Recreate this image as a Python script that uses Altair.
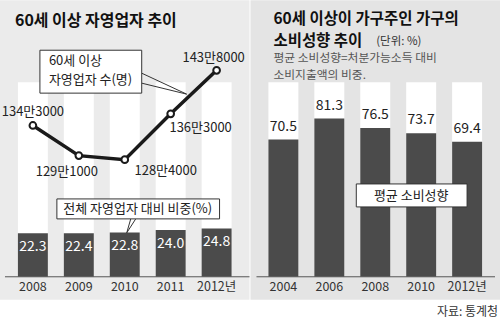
import altair as alt
import pandas as pd

FONT = "Noto Sans CJK KR"

# ---- data ----
left_years = ["2008", "2009", "2010", "2011", "2012"]
left_share = [22.3, 22.4, 22.8, 24.0, 24.8]          # 전체 자영업자 대비 비중(%)
left_count = [1343000, 1291000, 1284000, 1363000, 1438000]  # 60세 이상 자영업자 수(명)
right_years = ["2004", "2006", "2008", "2010", "2012"]
right_rate = [70.5, 81.3, 76.5, 73.7, 69.4]          # 평균 소비성향(%)

left_df = pd.DataFrame({"year": left_years, "share": left_share, "count": left_count})
right_df = pd.DataFrame({"year": right_years, "rate": right_rate})
dummy = pd.DataFrame({"d": [0]})

W, H = 250, 321
DARK = "#4b4b4b"
xs = alt.Scale(paddingInner=0.348, paddingOuter=0.39)
ybar = alt.Scale(domain=[0, 100], range=[277, 82])
yline = alt.Scale(domain=[1280000, 1440000], range=[162, 69])


def X():
    return alt.X("year:N", scale=xs, axis=None)


def bg(color):
    return alt.Chart(dummy).mark_rect(color=color).encode(
        x=alt.value(0), x2=alt.value(W), y=alt.value(0), y2=alt.value(300))


def txt(text, x, y, size=13, weight="normal", align="left", color="#222"):
    return alt.Chart(dummy).mark_text(
        text=text, font=FONT, fontSize=size, fontWeight=weight, align=align,
        baseline="middle", color=color
    ).encode(x=alt.value(x), y=alt.value(y))


def box(x1, x2, y1, y2):
    return alt.Chart(dummy).mark_rect(fill="white", stroke="#333", strokeWidth=1).encode(
        x=alt.value(x1), x2=alt.value(x2), y=alt.value(y1), y2=alt.value(y2))


def seg(x1, y1, x2, y2):
    return alt.Chart(dummy).mark_rule(color="#333", strokeWidth=1).encode(
        x=alt.value(x1), x2=alt.value(x2), y=alt.value(y1), y2=alt.value(y2))


def columns(df):
    return alt.Chart(df).transform_calculate(full="100").mark_bar(color="white").encode(
        x=X(), y=alt.Y("full:Q", scale=ybar, axis=None))


def year_labels(df):
    return alt.Chart(df).transform_calculate(
        lab="datum.year == '2012' ? '2012년' : datum.year"
    ).mark_text(font=FONT, fontSize=12.5, color="#333", baseline="middle").encode(
        x=X(), y=alt.value(287), text="lab:N")


def baseline(x1, x2):
    return alt.Chart(dummy).mark_rule(color="#555", strokeWidth=1).encode(
        x=alt.value(x1), x2=alt.value(x2), y=alt.Y(datum=0, scale=ybar, axis=None))


# ---- left panel ----
l_bars = alt.Chart(left_df).mark_bar(color=DARK).encode(
    x=X(), y=alt.Y("share:Q", scale=ybar, axis=None))
l_bar_lab = alt.Chart(left_df).mark_text(
    font=FONT, fontSize=14, color="white", baseline="middle", dy=14
).encode(x=X(), y=alt.Y("share:Q", scale=ybar, axis=None), text=alt.Text("share:Q", format=".1f"))
l_line = alt.Chart(left_df).mark_line(color="#1a1a1a", strokeWidth=3.5).encode(
    x=X(), y=alt.Y("count:Q", scale=yline, axis=None))
l_pts = alt.Chart(left_df).mark_point(
    shape="circle", filled=True, fill="white", stroke="#1a1a1a", strokeWidth=2, size=45, opacity=1
).encode(x=X(), y=alt.Y("count:Q", scale=yline, axis=None))

offs = {"2008": (0, -13), "2009": (-12, 16), "2010": (41, 11), "2011": (30, 14), "2012": (-3, -12)}
l_cnt_labs = [
    alt.Chart(left_df).transform_filter(alt.datum.year == yr).transform_calculate(
        lab="floor(datum.count / 10000) + '만' + (datum.count % 10000)"
    ).mark_text(font=FONT, fontSize=13, color="#222", baseline="middle", dx=dx, dy=dy).encode(
        x=X(), y=alt.Y("count:Q", scale=yline, axis=None), text="lab:N")
    for yr, (dx, dy) in offs.items()
]

left = alt.layer(
    bg("#ebebeb"),
    columns(left_df),
    l_bars,
    baseline(5, 250),
    l_bar_lab,
    l_line,
    l_pts,
    *l_cnt_labs,
    seg(142, 73, 187, 94), seg(142, 83, 187, 94),
    box(40, 142, 50, 93),
    txt("60세 이상", 49, 61, size=13),
    txt("자영업자 수(명)", 49, 80, size=13),
    seg(131, 219, 127, 233), seg(136, 219, 127, 233),
    box(57, 220, 199, 219),
    txt("전체 자영업자 대비 비중(%)", 138, 209, size=13, align="center"),
    txt("60세 이상 자영업자 추이", 15, 21, size=16, weight="bold", color="#111"),
    year_labels(left_df),
).resolve_scale(y="independent").properties(width=W, height=H)

# ---- right panel ----
r_bars = alt.Chart(right_df).mark_bar(color=DARK).encode(
    x=X(), y=alt.Y("rate:Q", scale=ybar, axis=None))
r_lab = alt.Chart(right_df).mark_text(
    font=FONT, fontSize=14, color="#222", baseline="middle", dy=-13
).encode(x=X(), y=alt.Y("rate:Q", scale=ybar, axis=None), text=alt.Text("rate:Q", format=".1f"))

right = alt.layer(
    bg("#e4e4e4"),
    columns(right_df),
    r_bars,
    baseline(6, 245),
    r_lab,
    box(106, 217, 184, 207),
    txt("평균 소비성향", 161, 196, size=13, align="center"),
    txt("60세 이상이 가구주인 가구의", 23, 19, size=15.5, weight="bold", color="#111"),
    txt("소비성향 추이", 23, 41, size=15.5, weight="bold", color="#111"),
    txt("(단위: %)", 126, 42, size=11.5, color="#333"),
    txt("평균 소비성향=처분가능소득 대비", 23, 58, size=11.8, color="#555"),
    txt("소비지출액의 비중.", 23, 75, size=11.8, color="#555"),
    year_labels(right_df),
    txt("자료: 통계청", 248, 312, size=12, align="right", color="#333"),
).resolve_scale(y="independent").properties(width=W, height=H)

chart = alt.hconcat(left, right, spacing=0).properties(padding=0).configure_view(stroke=None)
chart.save("out.html", embed_options={"renderer": "svg", "actions": False})
